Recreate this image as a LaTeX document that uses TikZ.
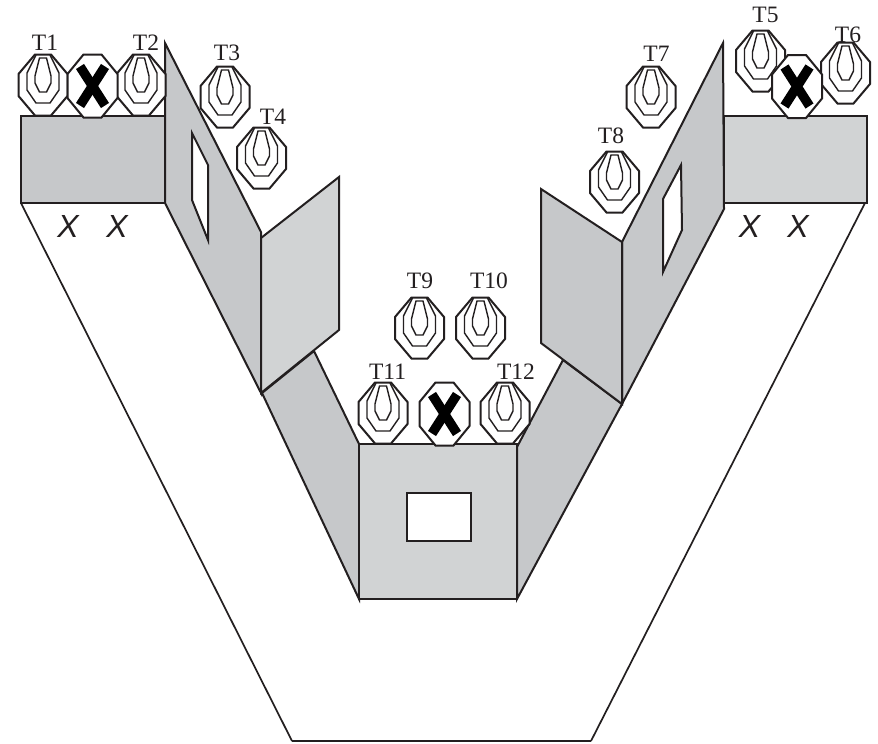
\documentclass[tikz,border=0pt]{standalone}
\usepackage{fontspec}
\setmainfont{Liberation Serif}
\newfontfamily\xfont{Liberation Sans}
\definecolor{wallA}{HTML}{C6C8CA}
\definecolor{wallB}{HTML}{D1D3D4}
\definecolor{inkc}{HTML}{231F20}
\tikzset{
  wall/.style={draw=inkc,line width=2pt,line join=miter},
  hole/.style={draw=inkc,fill=white,line width=2pt},
  rim/.style={draw=inkc,fill=white,line width=2pt,line join=miter},
  ring/.style={draw=inkc,line width=1.4pt},
  tlabel/.style={anchor=base,inner sep=0pt,text=inkc,font=\fontsize{23.5}{23.5}\selectfont},
  xlabel/.style={anchor=base,inner sep=0pt,text=inkc,font=\xfont\itshape\fontsize{32}{32}\selectfont},
  slash/.style={draw=black,line width=9.5pt,line cap=butt}
}
\newcommand{\targetshape}[2]{%
  \begin{scope}[shift={(#1,#2)}]
    \draw[rim] (-8,-30.5)--(8,-30.5)--(24.5,-11)--(24.5,11)--(8,30.5)--(-8,30.5)--(-24.5,11)--(-24.5,-11)--cycle;
    \draw[ring] (-7,-30)--(-16,-12)--(-16,5)--(-7,18)--(7,18)--(16,5)--(16,-12)--(7,-30);
    \draw[ring] (-3.5,-27)--(3.5,-27)--(8,-9)--(8,-2)--(3.5,7)--(-3.5,7)--(-8,-2)--(-8,-9)--cycle;
  \end{scope}}
\newcommand{\crossshape}[2]{%
  \begin{scope}[shift={(#1,#2)}]
    \draw[rim] (-9,-31.5)--(9,-31.5)--(25,-12)--(25,12)--(9,31.5)--(-9,31.5)--(-25,12)--(-25,-12)--cycle;
    \draw[slash] (-12.5,-19.5)--(12.5,19.5);
    \draw[slash] (12.5,-19.5)--(-12.5,19.5);
  \end{scope}}
\begin{document}
\begin{tikzpicture}[x=1pt,y=-1pt]
\useasboundingbox (0,0) rectangle (878,744);
\fill[white] (0,0) rectangle (878,744);
% outer track
\draw[draw=inkc,line width=1.7pt] (21,203)--(292,741);
\draw[draw=inkc,line width=1.7pt] (865,203)--(591,741);
\draw[draw=inkc,line width=2.4pt] (292,741)--(591,741);
% floors
\draw[wall,fill=wallA] (262,393)--(314,351)--(359,444)--(359,599)--cycle;
\draw[wall,fill=wallA] (517,447)--(563,360)--(622,404)--(517,599)--cycle;
% side walls
\draw[wall,fill=wallA] (165,43)--(261,232)--(261,393)--(165,203)--cycle;
\draw[wall,fill=wallA] (723,43)--(622,242)--(622,404)--(724,209)--cycle;
\draw[hole] (192,133)--(208,165)--(208,240)--(192,200)--cycle;
\draw[hole] (681,165)--(663,199)--(663,272)--(682,230)--cycle;
% angled walls
\draw[wall,fill=wallB] (261,238)--(339,177)--(339,330)--(261,393)--cycle;
\draw[wall,fill=wallA] (541,189)--(622,242)--(622,404)--(541,343)--cycle;
% boxes
\draw[wall,fill=wallA] (21,116) rectangle (165,203);
\draw[wall,fill=wallB] (724,116) rectangle (867,203);
\draw[wall,fill=wallB] (359,444) rectangle (517,599);
\draw[hole] (407,493) rectangle (471,541);
% targets
\targetshape{43}{85}
\targetshape{141}{85}
\crossshape{92.5}{86}
\targetshape{225}{97}
\targetshape{261.5}{158}
\targetshape{760.5}{61}
\targetshape{845.5}{73}
\crossshape{797}{86.5}
\targetshape{651}{97}
\targetshape{614.5}{182}
\targetshape{419.5}{328}
\targetshape{480.5}{328}
\targetshape{383}{413}
\targetshape{505}{413}
\crossshape{444.5}{414}
% labels
\node[tlabel] (t1) at (45,50) {T1};
\node[tlabel] (t2) at (146,50) {T2};
\node[tlabel] (t3) at (227,60) {T3};
\node[tlabel] (t4) at (273,124) {T4};
\node[tlabel] (t5) at (765.5,23) {T5};
\node[tlabel] (t6) at (848,42) {T6};
\node[tlabel] (t7) at (656.5,61) {T7};
\node[tlabel] (t8) at (611,143) {T8};
\node[tlabel] (t9) at (420,288) {T9};
\node[tlabel] (t10) at (489,288) {T10};
\node[tlabel] (t11) at (387.5,379) {T11};
\node[tlabel] (t12) at (516,379) {T12};
\node[xlabel] (x1) at (68,237) {X};
\node[xlabel] (x2) at (117,237) {X};
\node[xlabel] (x3) at (749.5,237) {X};
\node[xlabel] (x4) at (798,237) {X};
\end{tikzpicture}
\end{document}
